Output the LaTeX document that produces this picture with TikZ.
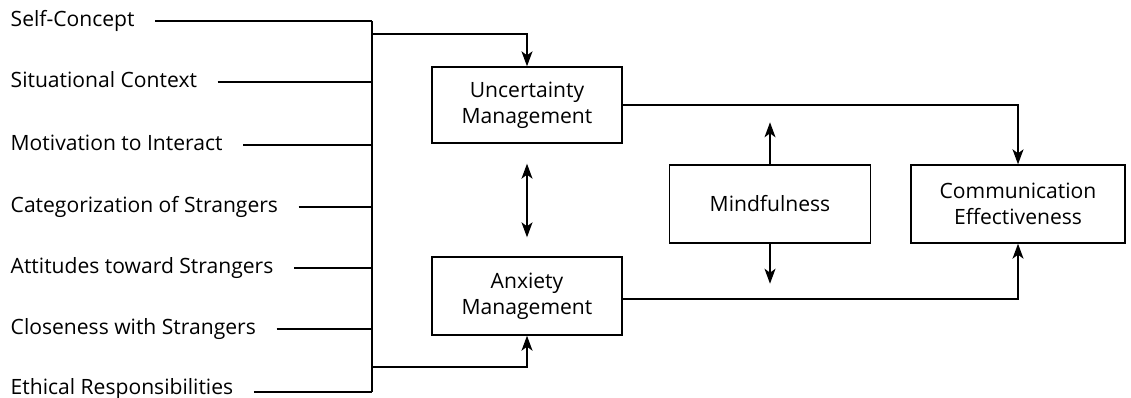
\documentclass[tikz,border=0pt]{standalone}
\usepackage{fontspec}
\setmainfont{Open Sans}
\usepackage{tikz}
\usetikzlibrary{arrows.meta, positioning, calc}

\begin{document}
\begin{tikzpicture}[x=0.02cm, y=-0.02cm, line width=0.8pt, every node/.style={font=\fontsize{12}{15}\selectfont}, align=center, >={Stealth[length=0.3cm, width=0.22cm, inset=0.08cm]}]
        \useasboundingbox (0,0) rectangle (1131,397);
        % factors on the left
        \node (self) [anchor=base west, inner sep=0pt] at (10,26) {Self-Concept};
        \node (situ) [anchor=base west, inner sep=0pt] at (10,87) {Situational Context};
        \node (moti) [anchor=base west, inner sep=0pt] at (10,150) {Motivation to Interact};
        \node (cate) [anchor=base west, inner sep=0pt] at (10,212) {Categorization of Strangers};
        \node (atti) [anchor=base west, inner sep=0pt] at (10,273) {Attitudes toward Strangers};
        \node (clos) [anchor=base west, inner sep=0pt] at (10,334) {Closeness with Strangers};
        \node (ethi) [anchor=base west, inner sep=0pt] at (10,394) {Ethical Responsibilities};
        \coordinate (bartop) at (372,21);
        \coordinate (barbot) at (372,392);
        \draw ([xshift=0.4cm]self.east |- bartop) -- (bartop);
        \draw ([xshift=0.4cm]situ.east |- 0,82) -- (372,82);
        \draw ([xshift=0.4cm]moti.east |- 0,145) -- (372,145);
        \draw ([xshift=0.4cm]cate.east |- 0,207) -- (372,207);
        \draw ([xshift=0.4cm]atti.east |- 0,268) -- (372,268);
        \draw ([xshift=0.4cm]clos.east |- 0,329) -- (372,329);
        \draw ([xshift=0.4cm]ethi.east |- barbot) -- (barbot);
        \draw (bartop) -- (barbot);
        % boxes
        \node (unc) [rectangle, draw, minimum width=3.8cm, minimum height=1.52cm] at (527,105) {Uncertainty\\Management};
        \node (anx) [rectangle, draw, minimum width=3.8cm, minimum height=1.56cm] at (527,296) {Anxiety\\Management};
        \node (mind) [rectangle, draw, minimum width=4.02cm, minimum height=1.56cm] at (770,204) {Mindfulness};
        \node (comm) [rectangle, draw, minimum width=4.28cm, minimum height=1.56cm] at (1018,204) {Communication\\Effectiveness};
        \draw[->] (372,34) -| (unc.north);
        \draw[->] (372,367) -| (anx.south);
        \draw[<->] ([yshift=-0.4cm]unc.south) -- ([yshift=0.38cm]anx.north);
        \draw[->] (mind.north) -- ++(0,-42);
        \draw[->] (mind.south) -- ++(0,40);
        \draw[->] (unc.east) -| (comm.north);
        \draw[->] ([yshift=-0.06cm]anx.east) -| (comm.south);
\end{tikzpicture}
\end{document}
